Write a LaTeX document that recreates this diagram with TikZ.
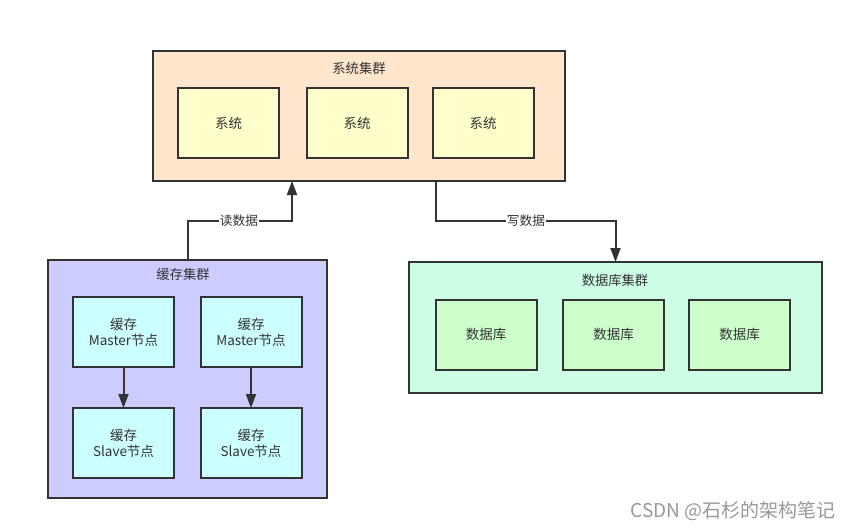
\documentclass[tikz,border=0pt]{standalone}
\usepackage{fontspec}
\setmainfont{Noto Sans CJK SC}
\usetikzlibrary{arrows.meta}

\definecolor{edgegray}{HTML}{333333}
\definecolor{sysout}{HTML}{FFE6CC}
\definecolor{sysin}{HTML}{FFFFCC}
\definecolor{cacheout}{HTML}{CCCCFF}
\definecolor{cachein}{HTML}{CCFFFF}
\definecolor{dbout}{HTML}{CCFFE6}
\definecolor{dbin}{HTML}{CCFFCC}

\tikzset{
  box/.style={draw=edgegray, line width=2pt, inner sep=0pt, outer sep=0pt, align=center,
    font=\fontsize{13.5}{16}\selectfont, text=edgegray},
  cluster/.style={box},
  member/.style={box, minimum width=101, minimum height=70},
  title/.style={font=\fontsize{13.3}{16}\selectfont, text=edgegray},
  conn/.style={draw=edgegray, line width=2pt, -{Triangle[length=14pt,width=10pt]}},
  tag/.style={fill=white, inner sep=1pt, font=\fontsize{12.7}{15}\selectfont, text=edgegray}
}

\begin{document}
\begin{tikzpicture}[x=1pt,y=-1pt]
		\useasboundingbox[fill=white] (0,0) rectangle (854,530);

		% system cluster
		\node[cluster, fill=sysout, minimum width=412, minimum height=130] (sys) at (359,116) {};
		\node[title] (systitle) at (359,68) {系统集群};
		\node[member, fill=sysin] (sysa) at (228.5,123) {系统};
		\node[member, fill=sysin] (sysb) at (357,123) {系统};
		\node[member, fill=sysin] (sysc) at (483,123) {系统};

		% cache cluster
		\node[cluster, fill=cacheout, minimum width=279, minimum height=238] (cache) at (187.5,379) {};
		\node[title] (cachetitle) at (183,274) {缓存集群};
		\node[member, fill=cachein] (mastera) at (123.5,332) {缓存\\Master节点};
		\node[member, fill=cachein] (masterb) at (251,332) {缓存\\Master节点};
		\node[member, fill=cachein] (slavea) at (123.5,443) {缓存\\Slave节点};
		\node[member, fill=cachein] (slaveb) at (251,443) {缓存\\Slave节点};
		\draw[conn] (mastera) -- (slavea);
		\draw[conn] (masterb) -- (slaveb);

		% database cluster
		\node[cluster, fill=dbout, minimum width=413, minimum height=131] (db) at (615.5,327.5) {};
		\node[title] (dbtitle) at (615,280) {数据库集群};
		\node[member, fill=dbin] (dba) at (486,334.5) {数据库};
		\node[member, fill=dbin] (dbb) at (613.5,334.5) {数据库};
		\node[member, fill=dbin] (dbc) at (739.5,334.5) {数据库};

		% read / write
		\coordinate (readbend) at (292,221);
		\coordinate (writebend) at (436,221);
		\draw[conn] (cache.north) |- (readbend) -- (readbend |- sys.south);
		\node[tag] (readtag) at (239,221) {读数据};
		\draw[conn] (writebend |- sys.south) -- (writebend) -| (db.north);
		\node[tag] (writetag) at (526,221) {写数据};

		\node[text=black!40, font=\fontsize{19}{21}\selectfont] (mark) at (733,511) {CSDN @石杉的架构笔记};
	\end{tikzpicture}
\end{document}
